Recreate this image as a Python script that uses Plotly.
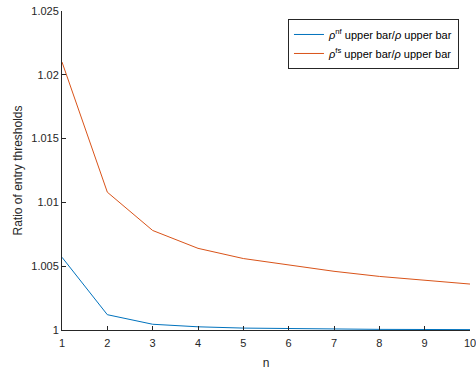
import plotly.graph_objects as go

n = [1, 2, 3, 4, 5, 6, 7, 8, 9, 10]
ratio_nf = [1.0057, 1.0012, 1.00045, 1.00025, 1.00015, 1.0001, 1.00007, 1.00005, 1.00004, 1.00003]
ratio_fs = [1.0210, 1.0108, 1.0078, 1.0064, 1.0056, 1.0051, 1.0046, 1.0042, 1.0039, 1.0036]
y_ticks = [1, 1.005, 1.01, 1.015, 1.02, 1.025]
y_ticktext = ["1", "1.005", "1.01", "1.015", "1.02", "1.025"]

font = "Liberation Sans, Arial, sans-serif"
axcol = "#262626"

fig = go.Figure()
fig.add_trace(go.Scatter(x=n, y=ratio_nf, mode="lines",
                         line=dict(color="#0072BD", width=1),
                         name="<i>ρ</i><sup>nf</sup> upper bar/<i>ρ</i> upper bar"))
fig.add_trace(go.Scatter(x=n, y=ratio_fs, mode="lines",
                         line=dict(color="#D95319", width=1),
                         name="<i>ρ</i><sup>fs</sup> upper bar/<i>ρ</i> upper bar"))

fig.update_layout(
    width=476, height=374,
    margin=dict(l=62, r=6, t=11, b=44, autoexpand=False),
    paper_bgcolor="white", plot_bgcolor="white",
    font=dict(family=font, size=11, color=axcol),
    showlegend=True,
    legend=dict(x=0.973, y=0.975, xanchor="right", yanchor="top",
                bgcolor="white", bordercolor=axcol, borderwidth=1,
                font=dict(size=11, color="black"),
                tracegroupgap=0, itemwidth=30),
    xaxis=dict(range=[1, 10], tickvals=n, showline=True, linecolor=axcol,
               linewidth=1, ticks="inside", ticklen=4, tickcolor=axcol,
               showgrid=False, zeroline=False, mirror=False,
               ticklabeloverflow="allow", automargin=False,
               ticklabelstandoff=3,
               title=dict(text="n", font=dict(size=12), standoff=10)),
    yaxis=dict(range=[1, 1.025], tickvals=y_ticks, ticktext=y_ticktext,
               showline=True, linecolor=axcol, linewidth=1, ticks="inside",
               ticklen=4, tickcolor=axcol, showgrid=False, zeroline=False,
               automargin=False,
               title=dict(text="Ratio of entry thresholds", font=dict(size=12), standoff=6)),
)

fig.write_html("out.html")
